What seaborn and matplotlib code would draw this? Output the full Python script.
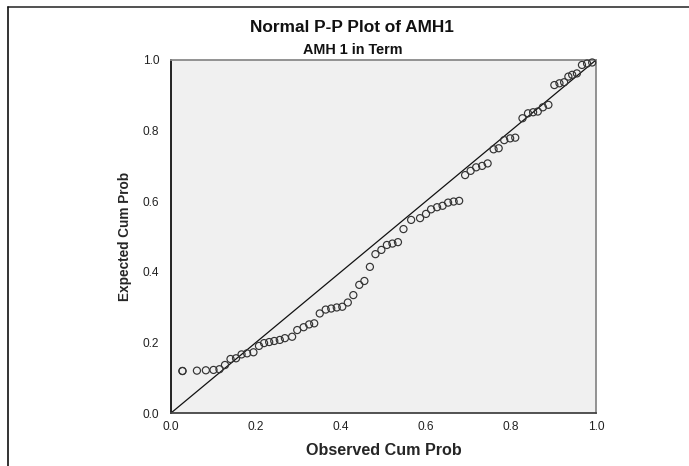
import matplotlib
matplotlib.use("Agg")
import matplotlib.pyplot as plt
from matplotlib.lines import Line2D
import seaborn as sns
import pandas as pd

# ---- data ----
observed_cum_prob = [
    0.027, 0.027, 0.061, 0.082, 0.100, 0.114, 0.127, 0.140, 0.153, 0.166,
    0.179, 0.194, 0.207, 0.219, 0.231, 0.243, 0.256, 0.268, 0.285, 0.297,
    0.312, 0.325, 0.337, 0.350, 0.364, 0.377, 0.390, 0.403, 0.416, 0.429,
    0.443, 0.455, 0.468, 0.481, 0.495, 0.508, 0.521, 0.534, 0.547, 0.565,
    0.586, 0.600, 0.612, 0.626, 0.639, 0.652, 0.665, 0.678, 0.692, 0.705,
    0.718, 0.732, 0.745, 0.759, 0.771, 0.784, 0.798, 0.810, 0.827, 0.840,
    0.852, 0.863, 0.875, 0.888, 0.902, 0.914, 0.925, 0.935, 0.944, 0.955,
    0.967, 0.979, 0.991,
]
expected_cum_prob = [
    0.119, 0.119, 0.120, 0.121, 0.122, 0.124, 0.136, 0.153, 0.155, 0.166,
    0.169, 0.172, 0.190, 0.198, 0.201, 0.204, 0.207, 0.212, 0.216, 0.235,
    0.243, 0.251, 0.254, 0.282, 0.293, 0.296, 0.299, 0.301, 0.313, 0.334,
    0.363, 0.374, 0.414, 0.450, 0.462, 0.476, 0.480, 0.484, 0.521, 0.547,
    0.552, 0.564, 0.577, 0.583, 0.587, 0.596, 0.599, 0.601, 0.674, 0.686,
    0.696, 0.700, 0.707, 0.747, 0.750, 0.773, 0.778, 0.780, 0.835, 0.849,
    0.852, 0.854, 0.866, 0.873, 0.929, 0.934, 0.937, 0.953, 0.958, 0.962,
    0.986, 0.990, 0.993,
]
reference_x = [0.0, 1.0]
reference_y = [0.0, 1.0]
tick_values = [0.0, 0.2, 0.4, 0.6, 0.8, 1.0]
tick_labels = ["0.0", "0.2", "0.4", "0.6", "0.8", "1.0"]

title_text = "Normal P-P Plot of AMH1"
subtitle_text = "AMH 1 in Term"
x_label = "Observed Cum Prob"
y_label = "Expected Cum Prob"

# ---- styling ----
sns.set_style("white")
plt.rcParams["font.family"] = ["Liberation Sans", "DejaVu Sans"]

W, H, DPI = 689, 466, 100
fig = plt.figure(figsize=(W / DPI, H / DPI), dpi=DPI, facecolor="white")
L, R, T, B = 171, 596, 60, 413
ax = fig.add_axes([L / W, 1 - B / H, (R - L) / W, (B - T) / H])
ax.set_facecolor("#f0f0f0")

df = pd.DataFrame({"obs": observed_cum_prob, "exp": expected_cum_prob})
ref = pd.DataFrame({"x": reference_x, "y": reference_y})

sns.lineplot(data=ref, x="x", y="y", ax=ax, color="#111111", linewidth=0.9, zorder=2)
sns.scatterplot(data=df, x="obs", y="exp", ax=ax, marker="o", s=26,
                facecolor="none", edgecolor="#333333", linewidth=0.85, zorder=3,
                clip_on=False)

ax.set_xlim(0, 1)
ax.set_ylim(0, 1)
ax.set_xticks(tick_values)
ax.set_xticklabels(tick_labels)
ax.set_yticks(tick_values)
ax.set_yticklabels(tick_labels)
ax.tick_params(axis="x", direction="out", length=4, width=1, color="#222222",
               labelsize=8.6, labelcolor="#222222", pad=2)
ax.tick_params(axis="y", direction="out", length=7, width=1, color="#222222",
               labelsize=8.6, labelcolor="#222222", pad=1.5)
ax.set_xlabel(x_label, fontsize=11.6, fontweight="bold", labelpad=7)
ax.set_ylabel(y_label, fontsize=9.8, fontweight="bold", labelpad=8)

ax.spines["left"].set_color("#111111")
ax.spines["left"].set_linewidth(1.3)
ax.spines["bottom"].set_color("#444444")
ax.spines["bottom"].set_linewidth(1.3)
for side in ["top", "right"]:
    ax.spines[side].set_color("#8a8a8a")
    ax.spines[side].set_linewidth(1.3)

fig.text(352 / W, 1 - 27 / H, title_text, ha="center", va="center",
         fontsize=12.4, fontweight="bold", color="#111111")
fig.text(353 / W, 1 - 50 / H, subtitle_text, ha="center", va="center",
         fontsize=10.4, fontweight="bold", color="#111111")

# outer chart frame (top and left edges visible in reference)
fig.add_artist(Line2D([8 / W, 1.0], [1 - 6.5 / H, 1 - 6.5 / H],
                      transform=fig.transFigure, color="#333333", linewidth=1.2))
fig.add_artist(Line2D([8 / W, 8 / W], [0.0, 1 - 6.5 / H],
                      transform=fig.transFigure, color="#111111", linewidth=1.2))

fig.savefig("out.png", dpi=DPI, facecolor="white")
